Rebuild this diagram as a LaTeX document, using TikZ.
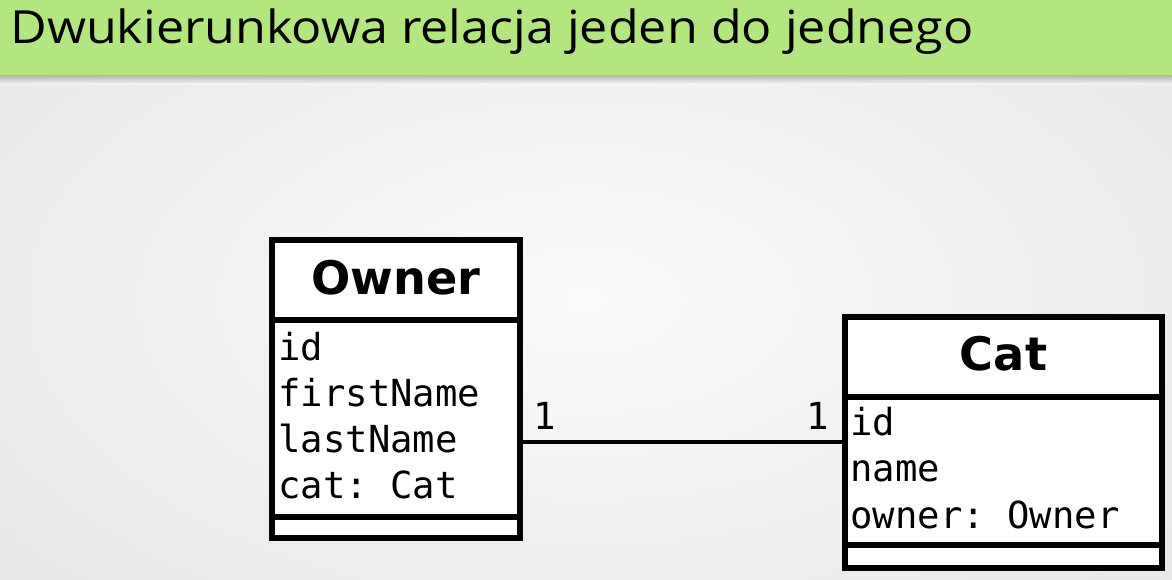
\documentclass[tikz,border=0pt]{standalone}
\usepackage{fontspec}
\setmainfont{DejaVu Sans}
\setmonofont{DejaVu Sans Mono}
\newfontfamily\handfont{Open Sans}
\usetikzlibrary{positioning}
\definecolor{bargreen}{RGB}{180,230,128}
\definecolor{bginner}{RGB}{251,251,251}
\definecolor{bgouter}{RGB}{232,232,232}

\begin{document}
\begin{tikzpicture}[x=0.02cm, y=-0.02cm,
    umlbox/.style={draw, line width=3.3pt, fill=white, outer sep=0pt, inner sep=0pt},
    classname/.style={font=\bfseries\fontsize{26.3}{30}\selectfont},
    attrtext/.style={font=\ttfamily\fontsize{21.2}{26}\selectfont, inner sep=0pt},
    assoc/.style={line width=2.6pt, black}]
    \useasboundingbox (0,0) rectangle (1172,579);
    \shade[inner color=bginner, outer color=bgouter] (-150,-100) rectangle (1322,700);

    % title bar
    \shade[top color=black!45, bottom color=bginner, opacity=.6] (0,75) rectangle (1172,84);
    \fill[bargreen] (0,0) rectangle (1172,75);
    \node[anchor=base west, inner sep=0pt, xscale=1.1, font=\handfont\fontsize{26}{30}\selectfont] (title) at (10,43) {Dwukierunkowa relacja jeden do jednego};

    % class Owner
    \node[umlbox, anchor=north west, minimum width=4.96cm, minimum height=1.6cm] (ohead) at (272,240) {};
    \node[umlbox, below=0pt of ohead, minimum width=4.96cm, minimum height=3.94cm] (oattr) {};
    \node[umlbox, below=0pt of oattr, minimum width=4.96cm, minimum height=0.42cm] (oops) {};
    \node[classname, anchor=base] (oname) at (ohead.center |- 0,294) {Owner};
    \foreach \a [count=\i from 0] in {id, firstName, lastName, {cat: Cat}}
        \node[attrtext, anchor=base west] (oa\i) at (278,360+46*\i) {\a};

    % class Cat
    \node[umlbox, anchor=north west, minimum width=6.34cm, minimum height=1.6cm] (chead) at (845,317) {};
    \node[umlbox, below=0pt of chead, minimum width=6.34cm, minimum height=2.96cm] (cattr) {};
    \node[umlbox, below=0pt of cattr, minimum width=6.34cm, minimum height=0.46cm] (cops) {};
    \node[classname, anchor=base] (cname) at (chead.center |- 0,370) {Cat};
    \foreach \a [count=\i from 0] in {id, name, {owner: Owner}}
        \node[attrtext, anchor=base west] (ca\i) at (850,435+46.5*\i) {\a};

    % association
    \coordinate (jog) at (683,442);
    \draw[assoc] (oattr.east |- jog) -- (cattr.west |- jog);
    \node[attrtext, anchor=base] (m1) at (545,429) {1};
    \node[attrtext, anchor=base] (m2) at (818,429) {1};
\end{tikzpicture}
\end{document}
